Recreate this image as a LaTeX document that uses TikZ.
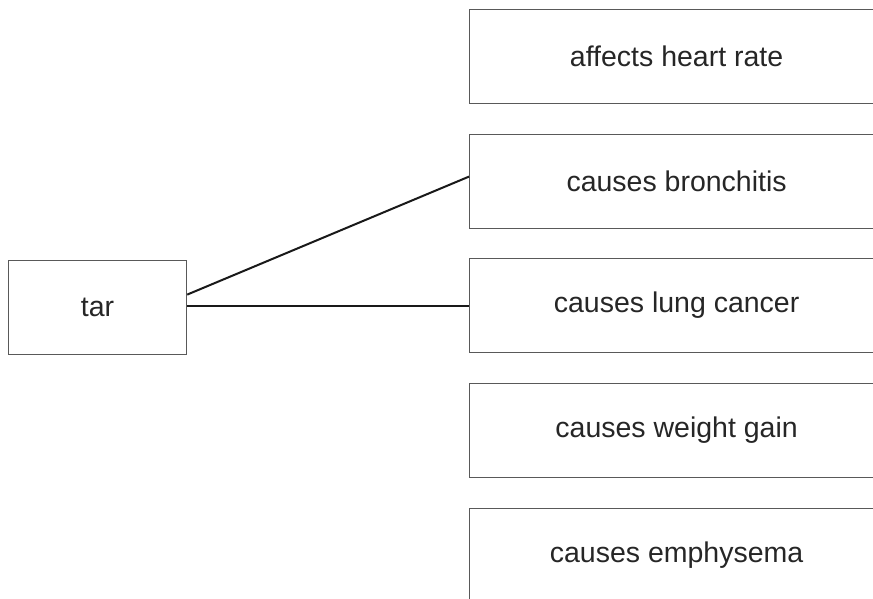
\documentclass[tikz,border=0pt]{standalone}
\usepackage{fontspec}
\setmainfont{Liberation Sans}
\begin{document}
\begin{tikzpicture}[x=1pt,y=-1pt,
  box/.style={draw=black!65,line width=1.2pt,rectangle,inner sep=0pt,
    font=\fontsize{28.5}{34}\selectfont,text=black!85},
  rbox/.style={box,minimum width=414pt,minimum height=94pt,anchor=north west},
  conn/.style={draw=black!90,line width=2pt}]
\useasboundingbox (0,0) rectangle (873,598);
\clip (0,0) rectangle (873,598);
\node[box,minimum width=178pt,minimum height=94pt,anchor=north west] (tar) at (8,260) {tar};
\node[rbox] (heart) at (469,9) {affects heart rate};
\node[rbox] (bron) at (469,134) {causes bronchitis};
\node[rbox] (lung) at (469,258) {causes lung cancer};
\node[rbox] (weight) at (469,383) {causes weight gain};
\node[rbox] (emph) at (469,508) {causes emphysema};
\draw[conn] ([yshift=13pt]tar.east) -- ([yshift=5pt]bron.west);
\draw[conn] ([yshift=2pt]tar.east) -- (lung.west);
\end{tikzpicture}
\end{document}
